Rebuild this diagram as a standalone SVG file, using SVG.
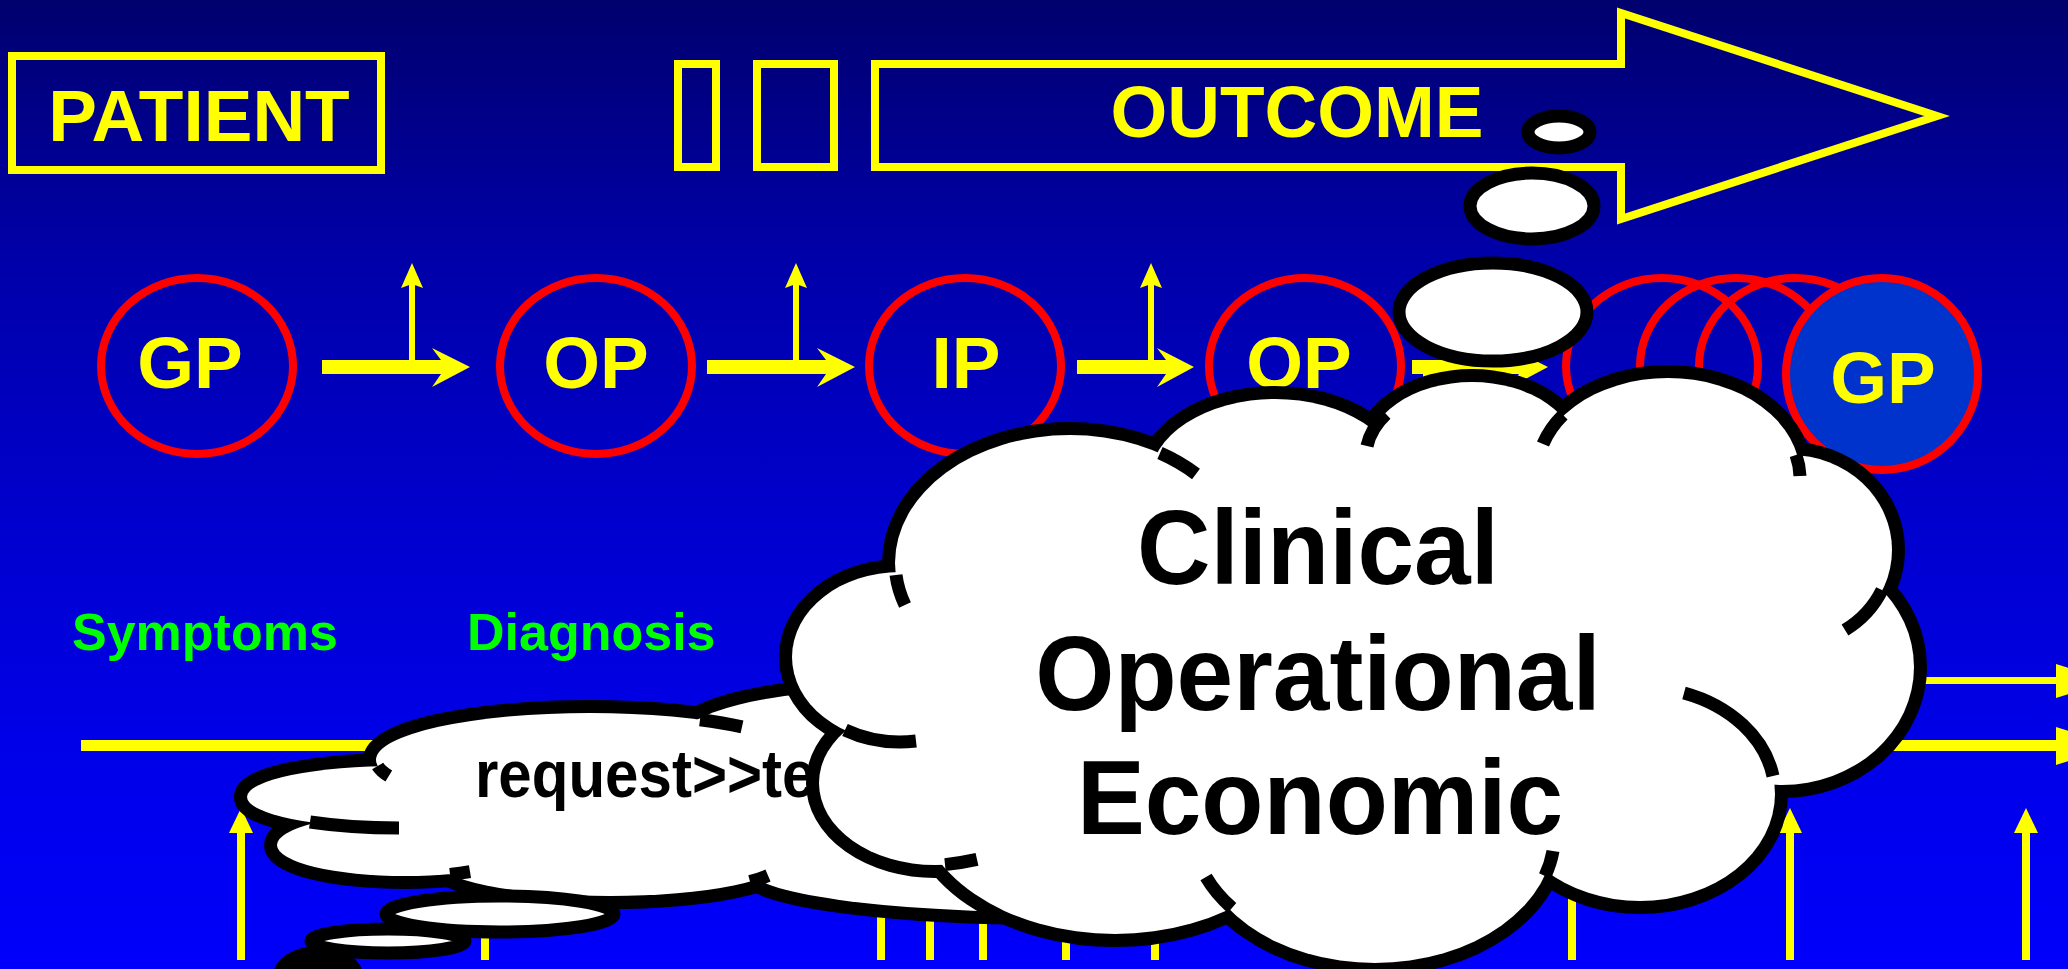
<svg xmlns="http://www.w3.org/2000/svg" xmlns:xlink="http://www.w3.org/1999/xlink" width="2068" height="969" viewBox="0 0 2068 969">
<defs>
<linearGradient id="bg" x1="0" y1="0" x2="0" y2="1">
<stop offset="0" stop-color="#00006e"/>
<stop offset="0.26" stop-color="#0000a8"/>
<stop offset="0.52" stop-color="#0000cc"/>
<stop offset="0.75" stop-color="#0000e6"/>
<stop offset="1" stop-color="#0000fc"/>
</linearGradient>
<style>
.t{font-family:"Liberation Sans",Arial,sans-serif;font-weight:bold}
.yt{fill:#ffff00;font-size:73px}
.gt{fill:#00ff00;font-size:52px}
.box{fill:none;stroke:#ffff00;stroke-width:8}
.red{fill:none;stroke:#ff0000;stroke-width:8}
.redf{fill:#0033cc;stroke:#ff0000;stroke-width:8}
.y{fill:#ffff00}
.vl{stroke:#ffff00;stroke-width:8}
.tl{stroke:#ffff00;stroke-width:6}
.cs{fill:#ffffff;stroke:#000000;stroke-width:26}
.cf{fill:#ffffff;stroke:none}
.cr{fill:none;stroke:#000000;stroke-width:13;stroke-linecap:butt}
.bub{fill:#ffffff;stroke:#000000;stroke-width:13}
.ct{fill:#000000}
</style>
<g id="big-lobes">
<ellipse cx="1070" cy="563" rx="175" ry="128"/>
<ellipse cx="1275" cy="480" rx="125" ry="81"/>
<ellipse cx="1472" cy="455" rx="106" ry="73"/>
<ellipse cx="1668" cy="475" rx="132" ry="97"/>
<ellipse cx="1790" cy="550" rx="102" ry="95"/>
<ellipse cx="1782" cy="667" rx="132" ry="118"/>
<ellipse cx="1640" cy="794" rx="135" ry="107"/>
<ellipse cx="1375" cy="835" rx="179" ry="128"/>
<ellipse cx="1115" cy="797" rx="199" ry="137"/>
<ellipse cx="935" cy="783" rx="116" ry="82"/>
<ellipse cx="900" cy="657" rx="108" ry="85"/>
</g>
<g id="small-lobes">
<ellipse cx="399" cy="797" rx="152" ry="31"/>
<ellipse cx="405" cy="845" rx="128" ry="31"/>
<ellipse cx="610" cy="860" rx="175" ry="36"/>
<ellipse cx="1050" cy="870" rx="300" ry="42"/>
<ellipse cx="590" cy="760" rx="214" ry="47"/>
<ellipse cx="880" cy="740" rx="200" ry="50"/>
</g>
</defs>

<rect x="0" y="0" width="2068" height="969" fill="url(#bg)"/>

<g id="patient">
<rect class="box" x="12" y="56" width="369" height="114"/>
<text class="t yt" x="199" y="141" text-anchor="middle">PATIENT</text>
</g>

<g id="small-boxes">
<rect class="box" x="678" y="64" width="38" height="103"/>
<rect class="box" x="757" y="64" width="77" height="103"/>
</g>

<g id="outcome">
<polygon class="box" points="875,64 1621,64 1621,13 1937,116 1621,219 1621,167 875,167"/>
<text class="t yt" x="1297" y="137" text-anchor="middle">OUTCOME</text>
</g>

<g id="node-gp1">
<ellipse class="red" cx="197" cy="366" rx="96" ry="88"/>
<text class="t yt" x="190" y="388" text-anchor="middle">GP</text>
</g>
<g id="node-op1">
<ellipse class="red" cx="596" cy="366" rx="96" ry="88"/>
<text class="t yt" x="596" y="388" text-anchor="middle">OP</text>
</g>
<g id="node-ip">
<ellipse class="red" cx="965" cy="366" rx="96" ry="88"/>
<text class="t yt" x="966" y="388" text-anchor="middle">IP</text>
</g>
<g id="node-op2">
<ellipse class="red" cx="1305" cy="366" rx="96" ry="88"/>
<text class="t yt" x="1299" y="388" text-anchor="middle">OP</text>
</g>
<g id="node-empty">
<ellipse class="red" cx="1662" cy="366" rx="96" ry="88"/>
<ellipse class="red" cx="1736" cy="366" rx="96" ry="88"/>
<ellipse class="red" cx="1795" cy="366" rx="96" ry="88"/>
</g>
<g id="node-gp2">
<ellipse class="redf" cx="1882" cy="374" rx="96" ry="96"/>
<text class="t yt" x="1883" y="403" text-anchor="middle">GP</text>
</g>

<g id="connectors">
<polygon class="y" points="322,360 441,360 432,348 470,367 432,387 441,374 322,374"/>
<line class="tl" x1="412" y1="362" x2="412" y2="282"/>
<polygon class="y" points="412,263 423,288 412,284 401,288"/>
<polygon class="y" points="707,360 826,360 817,348 855,367 817,387 826,374 707,374"/>
<line class="tl" x1="796" y1="362" x2="796" y2="282"/>
<polygon class="y" points="796,263 807,288 796,284 785,288"/>
<polygon class="y" points="1077,360 1166,360 1157,348 1194,367 1157,387 1166,374 1077,374"/>
<line class="tl" x1="1151" y1="362" x2="1151" y2="282"/>
<polygon class="y" points="1151,263 1162,288 1151,284 1140,288"/>
<polygon class="y" points="1412,360 1519,360 1510,348 1548,367 1510,387 1519,374 1412,374"/>
<line class="vl" x1="1427" y1="367" x2="1427" y2="420"/>

<line stroke="#ffff00" stroke-width="11" x1="81" y1="745.5" x2="2060" y2="745.5"/>
<polygon class="y" points="2056,727 2115,746 2056,765"/>
<line stroke="#ffff00" stroke-width="7" x1="1700" y1="680.5" x2="2060" y2="680.5"/>
<polygon class="y" points="2056,664 2110,681 2056,698"/>

<line class="vl" x1="241" y1="960" x2="241" y2="830"/>
<polygon class="y" points="241,808 253,833 229,833"/>
<line class="vl" x1="485" y1="960" x2="485" y2="850"/>
<line class="vl" x1="881" y1="960" x2="881" y2="850"/>
<line class="vl" x1="930" y1="960" x2="930" y2="850"/>
<line class="vl" x1="983" y1="960" x2="983" y2="850"/>
<line class="vl" x1="1066" y1="960" x2="1066" y2="850"/>
<line class="vl" x1="1155" y1="960" x2="1155" y2="850"/>
<line class="vl" x1="1572" y1="960" x2="1572" y2="850"/>
<line class="vl" x1="1790" y1="960" x2="1790" y2="830"/>
<polygon class="y" points="1790,808 1802,833 1778,833"/>
<line class="vl" x1="2026" y1="960" x2="2026" y2="830"/>
<polygon class="y" points="2026,808 2038,833 2014,833"/>
</g>

<g id="labels">
<text class="t gt" x="72" y="650">Symptoms</text>
<text class="t gt" x="467" y="650">Diagnosis</text>
</g>

<g id="small-cloud">
<use xlink:href="#small-lobes" class="cs"/>
<use xlink:href="#small-lobes" class="cf"/>
<polygon class="cf" points="420,840 400,790 590,740 800,730 1000,800 1000,880 780,880 600,860"/>
<path class="cr" d="M377.7,766 A214,47 0 0 0 388.8,776"/>
<path class="cr" d="M310,822 A152,31 0 0 0 399,828"/>
<path class="cr" d="M450,874.4 A128,31 0 0 0 470,871.7"/>
<path class="cr" d="M750,881.6 A175,36 0 0 0 768,875.5"/>
<path class="cr" d="M700,719.7 A214,47 0 0 1 742,726.9"/>
<text class="t ct" transform="translate(475,797) scale(0.91,1)" font-size="66">request&gt;&gt;te</text>
</g>

<g id="small-trail">
<ellipse class="bub" cx="500" cy="914" rx="114" ry="18"/>
<ellipse class="bub" cx="388" cy="941" rx="77" ry="12"/>
<ellipse cx="318" cy="976" rx="45" ry="30" fill="#000000"/>
</g>

<g id="big-cloud">
<use xlink:href="#big-lobes" class="cs"/>
<use xlink:href="#big-lobes" class="cf"/>
<polygon class="cf" points="1070,563 1275,480 1472,455 1668,475 1790,550 1782,667 1640,794 1375,835 1115,797 935,783 900,657"/>
<path class="cr" d="M1160,453 A175,128 0 0 1 1196,474"/>
<path class="cr" d="M1386,414 A106,73 0 0 0 1367,446"/>
<path class="cr" d="M1563,415 A132,97 0 0 0 1543,444"/>
<path class="cr" d="M1796,455 A132,97 0 0 1 1800,476"/>
<path class="cr" d="M1882,590 A102,95 0 0 1 1845,630"/>
<path class="cr" d="M1773,776 A135,107 0 0 0 1684,693"/>
<path class="cr" d="M1545,876 A179,128 0 0 0 1553,851"/>
<path class="cr" d="M1232,908 A179,128 0 0 1 1206,877"/>
<path class="cr" d="M945,864.6 Q961,863 977,859.4"/>
<path class="cr" d="M845,730 A108,85 0 0 0 916,741"/>
<path class="cr" d="M896,575 A175,128 0 0 0 905,605"/>
<text class="t ct" transform="translate(1318,584) scale(0.96,1)" font-size="106" text-anchor="middle">Clinical</text>
<text class="t ct" transform="translate(1318,710) scale(0.96,1)" font-size="106" text-anchor="middle">Operational</text>
<text class="t ct" transform="translate(1320,834) scale(0.96,1)" font-size="106" text-anchor="middle">Economic</text>
</g>

<g id="big-trail">
<ellipse class="bub" cx="1493" cy="312" rx="94" ry="49"/>
<ellipse class="bub" cx="1532" cy="206" rx="62" ry="33"/>
<ellipse class="bub" cx="1559" cy="132" rx="31" ry="16"/>
</g>
</svg>
